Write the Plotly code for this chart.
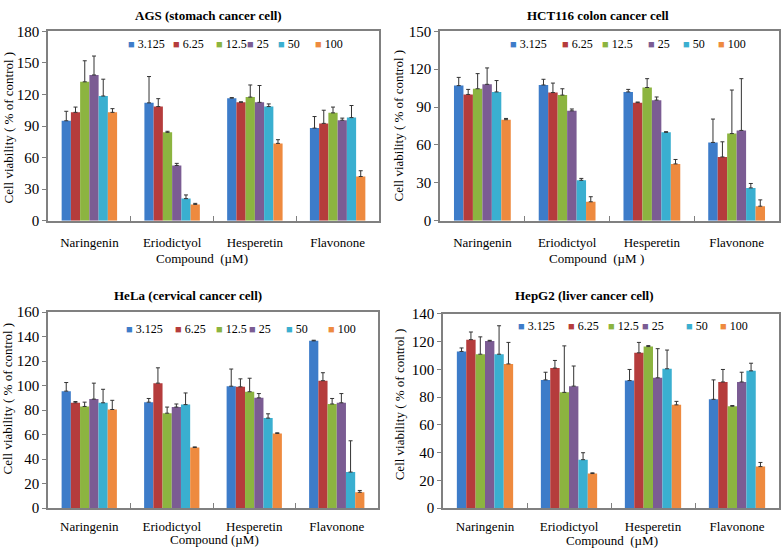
import plotly.graph_objects as go

W, H = 784, 558

COMPOUNDS = ["Naringenin", "Eriodictyol", "Hesperetin", "Flavonone"]
DOSES = ["3.125", "6.25", "12.5", "25", "50", "100"]
COLORS = ["#3D7CC9", "#B53C3C", "#8CB440", "#7B5C93", "#3AAFD0", "#EE8A3F"]

# one row per dose, one value per compound
AGS_MEAN = [
    [95, 112, 116.5, 88],
    [103, 108.5, 112.5, 92.5],
    [132, 84, 117.5, 102.5],
    [138.5, 52.5, 112.5, 95.5],
    [118.5, 21, 108.5, 98],
    [103, 15.5, 73.5, 42],
]
AGS_ERR = [
    [9, 25, 0.5, 11],
    [5, 7.5, 0.5, 12.5],
    [20, 1, 11.5, 5.5],
    [18, 2, 16, 2],
    [16, 3.5, 2.5, 11.5],
    [3.5, 1, 3.5, 5.5],
]

HCT_MEAN = [
    [107, 107.5, 102, 62],
    [100, 101.5, 93.5, 50.5],
    [104.5, 99.5, 105.5, 69],
    [108, 87, 95.5, 71.5],
    [102, 32, 70, 26],
    [80, 15, 45, 11.5],
]
HCT_ERR = [
    [6.5, 4.5, 2, 18.5],
    [4, 7.5, 0.5, 12],
    [12, 5, 7, 34.5],
    [13, 1.5, 2.5, 41],
    [9, 1.5, 0.5, 3.5],
    [1, 4, 3.5, 5],
]

HELA_MEAN = [
    [95.5, 86.5, 99.5, 136.5],
    [86, 102, 99, 104],
    [83, 77.5, 95, 85],
    [89, 82.5, 90, 86],
    [86, 84.5, 73.5, 29.5],
    [80.5, 49.5, 61, 13],
]
HELA_ERR = [
    [7, 3, 14, 0.5],
    [1, 12.5, 6.5, 6.5],
    [3.5, 5, 11, 4.5],
    [13, 2.5, 3.5, 7.5],
    [11, 9.5, 3.5, 25.5],
    [7.5, 0.5, 0.5, 1.5],
]

HEPG2_MEAN = [
    [113, 92.5, 92, 78.5],
    [121.5, 101, 112, 91],
    [111, 83.5, 116.5, 73.5],
    [120.5, 88, 94, 91],
    [111, 35, 100.5, 99],
    [104, 25, 74.5, 30],
]
HEPG2_ERR = [
    [2.5, 5.5, 8, 14],
    [5.5, 5.5, 7.5, 9],
    [12.5, 33.5, 0.7, 0.5],
    [0.5, 14.5, 21, 7],
    [20.5, 5, 13.5, 5.5],
    [15.5, 0.5, 2.5, 3],
]

AXIS_GREY = "#808080"
FONT = "Liberation Serif"


def px_x(x):
    return x / W


def px_y(y):
    return 1 - y / H


def add_panel(fig, means, errs, xa, ya):
    for dose, color, vals, err in zip(DOSES, COLORS, means, errs):
        fig.add_trace(
            go.Bar(
                x=COMPOUNDS,
                y=vals,
                name=dose,
                marker=dict(color=color, line=dict(width=0)),
                error_y=dict(
                    type="data",
                    symmetric=False,
                    array=err,
                    arrayminus=[0] * len(err),
                    color="#333333",
                    thickness=1,
                    width=2,
                ),
                xaxis=xa,
                yaxis=ya,
                showlegend=False,
            )
        )


def x_axis(left, right, anchor, standoff):
    return dict(
        domain=[px_x(left), px_x(right)],
        anchor=anchor,
        type="category",
        range=[-0.5, 3.5],
        showline=True,
        mirror=True,
        linecolor=AXIS_GREY,
        linewidth=1.5,
        ticks="inside",
        tickson="boundaries",
        ticklen=5,
        tickcolor=AXIS_GREY,
        ticklabelstandoff=standoff,
        showgrid=False,
        zeroline=False,
        tickfont=dict(size=13, color="black"),
    )


def y_axis(top, bottom, anchor, ymax, step):
    return dict(
        domain=[px_y(bottom), px_y(top)],
        anchor=anchor,
        range=[0, ymax],
        dtick=step,
        showline=True,
        mirror=True,
        linecolor=AXIS_GREY,
        linewidth=1.5,
        ticks="outside",
        ticklen=4,
        tickcolor=AXIS_GREY,
        showgrid=False,
        zeroline=False,
        tickfont=dict(size=15, color="black"),
    )


fig = go.Figure()
add_panel(fig, AGS_MEAN, AGS_ERR, "x", "y")
add_panel(fig, HCT_MEAN, HCT_ERR, "x2", "y2")
add_panel(fig, HELA_MEAN, HELA_ERR, "x3", "y3")
add_panel(fig, HEPG2_MEAN, HEPG2_ERR, "x4", "y4")

annotations = []


def label(text, x, y, size=13, angle=0, anchor="center"):
    annotations.append(
        dict(
            text=text,
            x=px_x(x),
            y=px_y(y),
            xref="paper",
            yref="paper",
            xanchor=anchor,
            yanchor="middle",
            showarrow=False,
            textangle=angle,
            font=dict(size=size, color="black", family=FONT),
        )
    )


# titles
label("<b>AGS (stomach cancer cell)</b>", 208, 8)
label("<b>HCT116 colon cancer cell</b>", 598, 8)
label("<b>HeLa (cervical cancer cell)</b>", 188, 296)
label("<b>HepG2 (liver cancer cell)</b>", 584, 296)

# axis titles
label("Compound\u00a0 (µM)", 202, 258)
label("Compound\u00a0 (µM )", 596, 258)
label("Compound (µM)", 214, 547)
label("Compound\u00a0 (µM)", 612, 548)
ytitle = "Cell viability ( % of control )"
label(ytitle, 8, 123, angle=-90)
label(ytitle, 399, 121, angle=-90)
label(ytitle, 7, 402, angle=-90)
label(ytitle, 399, 408, angle=-90)

# legends (swatch centre positions per panel)
legend_rows = [
    ([130, 175, 218, 249, 280, 317], 37),
    ([512, 564, 604, 650, 685, 720], 37),
    ([128, 177, 218, 251, 288, 330], 330),
    ([520, 570, 610, 644, 688, 722], 327),
]
for xs, y in legend_rows:
    for sx, dose, color in zip(xs, DOSES, COLORS):
        label(
            f"<span style='color:{color};font-size:11px'>■</span> {dose}",
            sx - 4,
            y,
            size=12,
            anchor="left",
        )

fig.update_layout(
    width=W,
    height=H,
    margin=dict(l=0, r=0, t=0, b=0),
    paper_bgcolor="white",
    plot_bgcolor="white",
    font=dict(family=FONT, size=13, color="black"),
    barmode="group",
    bargap=0.33,
    bargroupgap=0,
    showlegend=False,
    xaxis=x_axis(48, 379, "y", 9),
    yaxis=y_axis(24, 219, "x", 180, 30),
    xaxis2=x_axis(440, 779, "y2", 9),
    yaxis2=y_axis(24, 219, "x2", 150, 30),
    xaxis3=x_axis(48, 378, "y3", 5),
    yaxis3=y_axis(313, 515, "x3", 160, 20),
    xaxis4=x_axis(443, 779, "y4", 5),
    yaxis4=y_axis(315, 515, "x4", 140, 20),
    annotations=annotations,
)

# drop the default page margin so the figure sits at the window's corner
fig.write_html(
    "out.html",
    config={"displayModeBar": False},
    post_script="document.body.style.margin = '0';",
)
